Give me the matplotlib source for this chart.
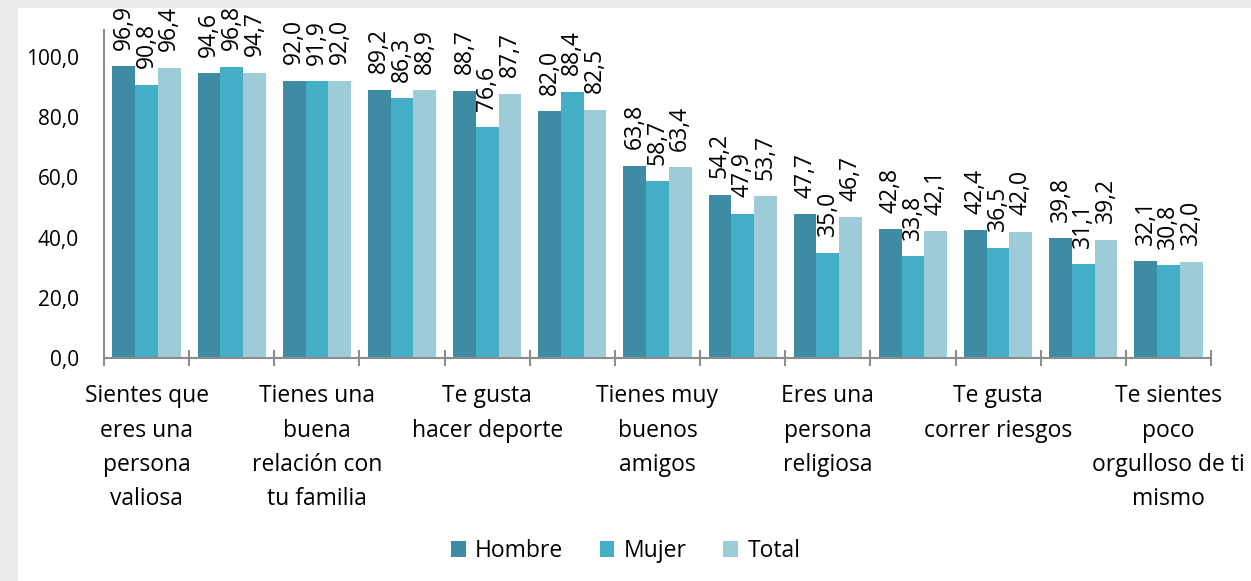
import matplotlib.pyplot as plt
import matplotlib.patches as mpatches
import numpy as np

# categories (only every other label is printed in the original)
categories = ["Sientes que\neres una\npersona\nvaliosa", "",
              "Tienes una\nbuena\nrelación con\ntu familia", "",
              "Te gusta\nhacer deporte", "",
              "Tienes muy\nbuenos\namigos", "",
              "Eres una\npersona\nreligiosa", "",
              "Te gusta\ncorrer riesgos", "",
              "Te sientes\npoco\norgulloso de ti\nmismo"]
hombre = [96.9, 94.6, 92.0, 89.2, 88.7, 82.0, 63.8, 54.2, 47.7, 42.8, 42.4, 39.8, 32.1]
mujer = [90.8, 96.8, 91.9, 86.3, 76.6, 88.4, 58.7, 47.9, 35.0, 33.8, 36.5, 31.1, 30.8]
total = [96.4, 94.7, 92.0, 88.9, 87.7, 82.5, 63.4, 53.7, 46.7, 42.1, 42.0, 39.2, 32.0]
series = ["Hombre", "Mujer", "Total"]
colors = ["#3d8ca3", "#44aec6", "#9ecbd8"]

plt.rcParams['font.family'] = ['Open Sans', 'DejaVu Sans']

fig = plt.figure(figsize=(12.51, 5.81), dpi=100, facecolor="#ececec")
# white panel behind the chart
fig.patches.append(mpatches.Rectangle((18 / 1251, 0), 1, 1 - 8 / 581,
                                      transform=fig.transFigure, fc="white",
                                      ec="none", zorder=-5))
ax = fig.add_axes([104 / 1251, (581 - 358) / 581, (1211 - 104) / 1251, (358 - 30) / 581])
ax.set_facecolor("none")
ax.set_zorder(2)

x = np.arange(len(categories))
w = 0.267
for i, (vals, c, name) in enumerate(zip([hombre, mujer, total], colors, series)):
    xs = x + (i - 1) * w
    ax.bar(xs, vals, width=w, color=c, label=name, linewidth=0)
    for xi, v in zip(xs, vals):
        ax.annotate(f"{v:.1f}".replace(".", ","), (xi, v), xytext=(0, 12),
                    textcoords="offset points", rotation=90,
                    ha="center", va="bottom", fontsize=16.5, color="black")

ax.set_xlim(-0.5, len(categories) - 0.5)
ax.set_ylim(0, 109)
ax.set_yticks(np.arange(0, 101, 20))
ax.set_yticklabels([f"{t:.1f}".replace(".", ",") for t in np.arange(0, 101, 20)], fontsize=15)
ax.tick_params(axis="y", length=0, pad=18)

ax.set_xticks(x)
ax.set_xticklabels(categories, fontsize=16.5, linespacing=1.57)
ax.tick_params(axis="x", length=0, pad=19)
ax.set_xticks(np.arange(-0.5, len(categories), 1), minor=True)
ax.tick_params(axis="x", which="minor", length=12, width=1.5, color="#8c8c8c", direction="inout")

for s in ["top", "right"]:
    ax.spines[s].set_visible(False)
for s in ["left", "bottom"]:
    ax.spines[s].set_color("#8c8c8c")
    ax.spines[s].set_linewidth(1.5)

fig.legend(loc="center", bbox_to_anchor=(0.5, 1 - 551 / 581), ncol=3, frameon=False,
           fontsize=16.5, handlelength=0.65, handleheight=0.65, handletextpad=0.4,
           columnspacing=1.6)

fig.savefig("out.png", dpi=100, facecolor=fig.get_facecolor())
